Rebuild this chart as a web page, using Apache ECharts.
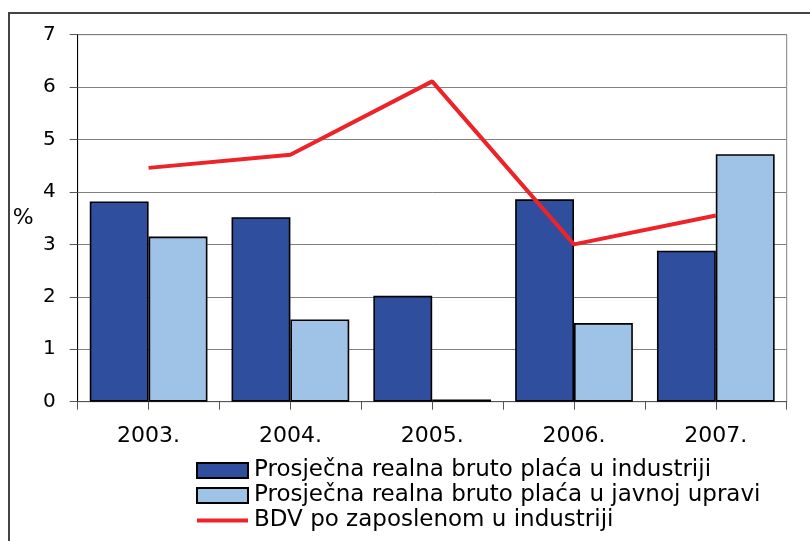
<!DOCTYPE html>
<html>
<head>
<meta charset="utf-8">
<script src="https://cdn.jsdelivr.net/npm/echarts@6/dist/echarts.min.js"></script>
<style>
  html, body { margin: 0; padding: 0; background: #fff; }
  #main { width: 810px; height: 541px; }
</style>
</head>
<body>
<div id="main"></div>
<script>
var years = ['2003.', '2004.', '2005.', '2006.', '2007.'];
var placaIndustrija = [3.82, 3.52, 2.02, 3.86, 2.88];
var placaUprava = [3.15, 1.57, 0.04, 1.5, 4.72];
var bdvIndustrija = [4.46, 4.71, 6.11, 3.0, 3.55];
var yTicks = [0, 1, 2, 3, 4, 5, 6, 7];

var myChart = echarts.init(document.getElementById('main'));
var fontName = 'DejaVu Sans';

option = {
    backgroundColor: '#fff',
    animation: false,
    graphic: [
        {
            // okvir slike
            type: 'rect',
            shape: { x: 9, y: 13, width: 900, height: 600 },
            style: { fill: 'none', stroke: '#444', lineWidth: 2 },
            silent: true
        }
    ],
    grid: {
        left: 77.7,
        right: 23.3,
        top: 34.7,
        bottom: 139.3,
        show: true,
        borderColor: '#808080',
        borderWidth: 1,
        backgroundColor: 'transparent'
    },
    legend: {
        orient: 'vertical',
        left: 195,
        top: 459,
        padding: 0,
        itemWidth: 51,
        itemHeight: 15,
        itemGap: 2,
        textStyle: {
            fontFamily: fontName,
            fontSize: 23,
            color: '#000',
            padding: [0, 0, 0, 1]
        },
        data: [
            { name: 'Prosječna realna bruto plaća u industriji', icon: 'rect' },
            { name: 'Prosječna realna bruto plaća u javnoj upravi', icon: 'rect' },
            {
                name: 'BDV po zaposlenom u industriji',
                itemStyle: { opacity: 0 },
                lineStyle: { width: 4 }
            }
        ]
    },
    xAxis: [
        {
            type: 'category',
            position: 'bottom',
            data: years,
            axisLine: { lineStyle: { color: '#555', width: 1 } },
            axisTick: { show: true, length: 8, lineStyle: { color: '#555' } },
            axisLabel: {
                margin: 24,
                fontFamily: fontName,
                fontSize: 22,
                color: '#000'
            },
            splitLine: { show: false }
        },
        {
            // kvačice na sredini kategorija
            type: 'category',
            position: 'bottom',
            data: years,
            axisLine: { show: false },
            axisTick: { show: true, alignWithLabel: true, length: 8, lineStyle: { color: '#555' } },
            axisLabel: { show: false },
            splitLine: { show: false }
        }
    ],
    yAxis: {
        type: 'value',
        min: yTicks[0],
        max: yTicks[yTicks.length - 1],
        interval: 1,
        name: '%',
        nameLocation: 'middle',
        nameRotate: 0,
        nameGap: 44,
        nameTextStyle: {
            fontFamily: fontName,
            fontSize: 22,
            color: '#000',
            padding: [0, 0, 20, 0]
        },
        axisLine: { show: true, lineStyle: { color: '#000', width: 1 } },
        axisTick: { show: true, length: 8, lineStyle: { color: '#555' } },
        axisLabel: {
            margin: 22,
            fontFamily: fontName,
            fontSize: 20,
            color: '#000'
        },
        splitLine: { lineStyle: { color: '#808080', width: 1 } }
    },
    series: [
        {
            name: 'Prosječna realna bruto plaća u industriji',
            type: 'bar',
            xAxisIndex: 0,
            barGap: '0%',
            barCategoryGap: '17%',
            itemStyle: { color: '#2F4F9E', borderColor: '#000', borderWidth: 1.6 },
            data: placaIndustrija
        },
        {
            name: 'Prosječna realna bruto plaća u javnoj upravi',
            type: 'bar',
            xAxisIndex: 0,
            barGap: '0%',
            barCategoryGap: '17%',
            itemStyle: { color: '#9FC3E7', borderColor: '#000', borderWidth: 1.6 },
            data: placaUprava
        },
        {
            name: 'BDV po zaposlenom u industriji',
            type: 'line',
            xAxisIndex: 0,
            symbol: 'none',
            z: 5,
            lineStyle: { color: '#EC2329', width: 4 },
            itemStyle: { color: '#EC2329' },
            data: bdvIndustrija
        }
    ]
};

myChart.setOption(option);
</script>
</body>
</html>
